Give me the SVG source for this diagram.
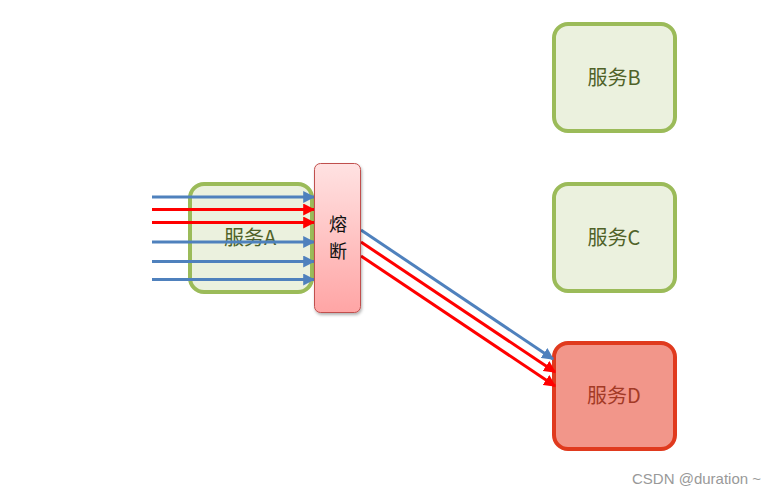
<svg xmlns="http://www.w3.org/2000/svg" width="782" height="494" viewBox="0 0 782 494">
<style>
.svc rect{fill:#EBF1DE;stroke:#9BBB59;stroke-width:4}
.svc text,.bad text,.fuse text{font-family:"Noto Sans CJK SC","Noto Sans",sans-serif;font-size:20px;text-anchor:middle}
.svc text{fill:#4F6228}
.bad rect{fill:#F2968A;stroke:#E03A1E;stroke-width:4}
.bad text{fill:#A33A26}
.fuse text{fill:#111;font-size:18px}
.b{stroke:#4F81BD;stroke-width:3;fill:none;marker-end:url(#ab)}
.r{stroke:#FF0000;stroke-width:3;fill:none;marker-end:url(#ar)}
</style>
<defs>
<marker id="ab" viewBox="0 0 10 10" refX="9" refY="5" markerWidth="4" markerHeight="4" orient="auto" markerUnits="strokeWidth"><path d="M0,0L10,5L0,10z" fill="#4F81BD"/></marker>
<marker id="ar" viewBox="0 0 10 10" refX="9" refY="5" markerWidth="4" markerHeight="4" orient="auto" markerUnits="strokeWidth"><path d="M0,0L10,5L0,10z" fill="#FF0000"/></marker>
<linearGradient id="fg" x1="0" y1="0" x2="0" y2="1"><stop offset="0" stop-color="#FFE2E2"/><stop offset="1" stop-color="#FFA5A5"/></linearGradient>
<filter id="sh" x="-20%" y="-10%" width="150%" height="120%"><feDropShadow dx="1" dy="2" stdDeviation="1.5" flood-color="#000" flood-opacity="0.3"/></filter>
</defs>
<rect width="782" height="494" fill="#fff"/>
<g id="serviceA" class="svc"><rect x="190" y="184" width="122" height="108" rx="14"/><text x="250" y="245">服务A</text></g>
<g id="serviceB" class="svc"><rect x="554" y="24" width="121" height="107" rx="14"/><text x="614" y="85">服务B</text></g>
<g id="serviceC" class="svc"><rect x="554" y="184" width="121" height="107" rx="14"/><text x="614" y="245">服务C</text></g>
<g id="serviceD" class="bad"><rect x="554" y="343" width="121" height="106" rx="14"/><text x="614" y="403">服务D</text></g>
<g id="connectors">
<path class="b" d="M152,197H314"/>
<path class="r" d="M152,209.5H314"/>
<path class="r" d="M152,222.5H314"/>
<path class="b" d="M152,242H314"/>
<path class="b" d="M152,261.5H314"/>
<path class="b" d="M152,279.5H314"/>
<path class="b" d="M361,230L553,359"/>
<path class="r" d="M361,242L555,372"/>
<path class="r" d="M361,256L555,386"/>
</g>
<g id="fuse" class="fuse"><rect x="314.5" y="163.5" width="46" height="149" rx="6" fill="url(#fg)" stroke="#C0504D" stroke-width="1" filter="url(#sh)"/><text x="338" y="231">熔</text><text x="338" y="258">断</text></g>
<text x="632" y="484" font-family="'Liberation Sans',Arial,sans-serif" font-size="15" fill="#999">CSDN @duration ~</text>
</svg>
